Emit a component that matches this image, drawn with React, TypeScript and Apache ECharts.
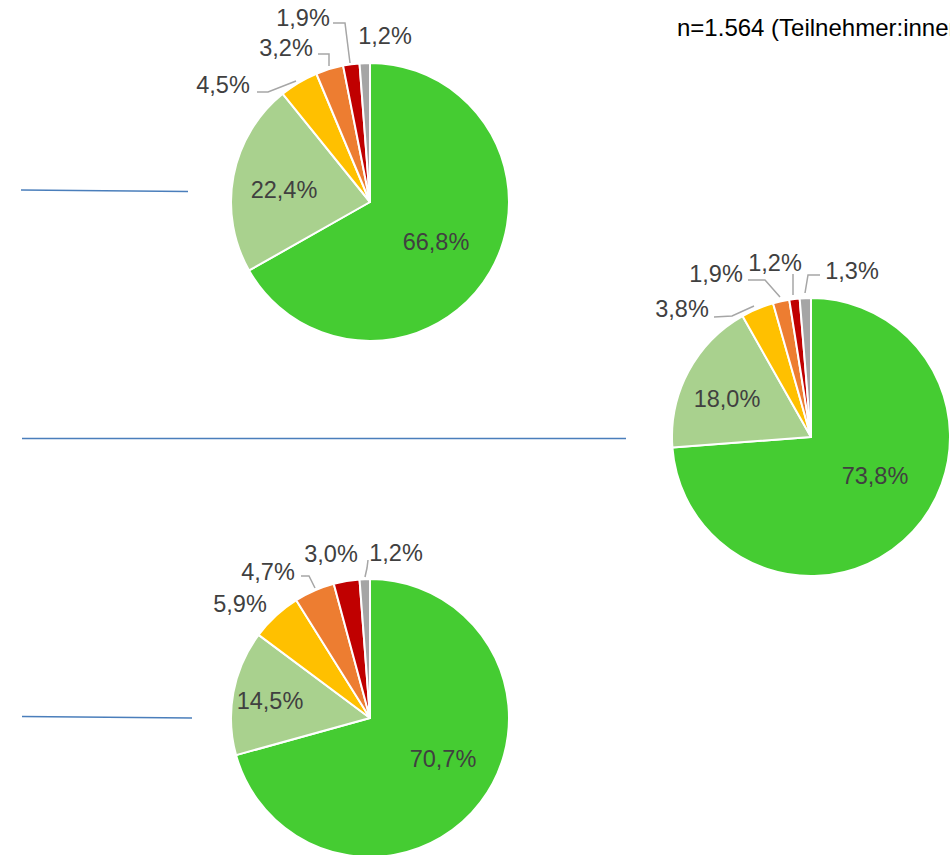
import React, { useEffect, useRef } from "react";
import * as echarts from "echarts";

// Categories (not shown as text in the chart)
const categories = [
  "sehr zufrieden",
  "eher zufrieden",
  "teils/teils",
  "eher unzufrieden",
  "sehr unzufrieden",
  "keine Angabe",
];
const colors = ["#45CC32", "#A9D18E", "#FFC000", "#ED7D31", "#C00000", "#A5A5A5"];

// Values (percent)
const valuesTop = [66.8, 22.4, 4.5, 3.2, 1.9, 1.2];
const valuesRight = [73.8, 18.0, 3.8, 1.9, 1.2, 1.3];
const valuesBottom = [70.7, 14.5, 5.9, 4.7, 3.0, 1.2];

const noteText = "n=1.564 (Teilnehmer:innen)";

// Layout (positions / styles)
const pieCenters: [number, number][] = [
  [370, 202],
  [811, 437],
  [370, 718],
];
const pieRadius = 139;

const labelPositions: [number, number][][] = [
  [[436, 242], [284, 190], [223, 85], [286, 48], [303, 18], [385, 36]],
  [[875, 476], [727, 399], [682, 309], [716, 274], [775, 263], [852, 271]],
  [[443, 759], [270, 701], [240, 604], [268, 572], [331, 554], [396, 553]],
];
const labelLines: (number[][] | null)[][] = [
  [null, null, [[257, 92], [268, 92], [296, 81]], [[318, 54], [329, 54], [329, 66]], [[333, 23], [345, 23], [350, 63]], null],
  [null, null, [[714, 317], [732, 316], [754, 306]], [[748, 280], [765, 280], [780, 297]], [[793, 274], [793, 284], [793, 295]], [[820, 275], [808, 275], [805, 293]]],
  [null, null, null, [[301, 576], [309, 576], [315, 588]], null, [[368, 560], [367, 568], [365, 577]]],
];

const blueLines: [number, number, number, number][] = [
  [21, 190, 188, 191.5],
  [22, 438.5, 626, 438.5],
  [22, 716.5, 192, 718],
];

const fontFamily = "'Liberation Sans', Arial, sans-serif";

function fmt(v: number) {
  return v.toFixed(1).replace(".", ",") + "%";
}

export default function App() {
  const ref = useRef<HTMLDivElement>(null);

  useEffect(() => {
    if (!ref.current) return;
    const chart = echarts.init(ref.current, undefined, { renderer: "svg" });
    const allValues = [valuesTop, valuesRight, valuesBottom];

    const series = allValues.map((vals, s) => ({
      type: "pie" as const,
      center: pieCenters[s],
      radius: pieRadius,
      startAngle: 90,
      clockwise: true,
      avoidLabelOverlap: false,
      itemStyle: { borderColor: "#FFFFFF", borderWidth: 2 },
      label: {
        show: true,
        formatter: (p: any) => fmt(p.value),
        fontFamily,
        fontSize: 23.5,
        color: "#404040",
      },
      labelLine: {
        lineStyle: { color: "#A6A6A6", width: 1.5 },
      },
      emphasis: { disabled: true },
      labelLayout: (params: any) => {
        const i = params.dataIndex;
        const p = labelPositions[s][i];
        const out: any = { x: p[0], y: p[1], align: "center", verticalAlign: "middle" };
        const l = labelLines[s][i];
        if (l) out.labelLinePoints = l;
        return out;
      },
      data: vals.map((v, i) => ({
        name: categories[i],
        value: v,
        itemStyle: { color: colors[i] },
        label: { position: i < 2 ? "inside" : "outside" },
        labelLine: { show: !!labelLines[s][i] },
      })),
    }));

    chart.setOption({
      animation: false,
      backgroundColor: "#FFFFFF",
      title: {
        text: noteText,
        left: 677,
        top: 15,
        padding: 0,
        textStyle: {
          fontFamily,
          fontSize: 24,
          fontWeight: "normal",
          color: "#000000",
        },
      },
      graphic: blueLines.map((l) => ({
        type: "line",
        shape: { x1: l[0], y1: l[1], x2: l[2], y2: l[3] },
        style: { stroke: "#4A7EBB", lineWidth: 1.5 },
        silent: true,
      })),
      series,
    });

    return () => chart.dispose();
  }, []);

  return (
    <div
      ref={ref}
      style={{ position: "fixed", left: 0, top: 0, width: 950, height: 855 }}
    />
  );
}
